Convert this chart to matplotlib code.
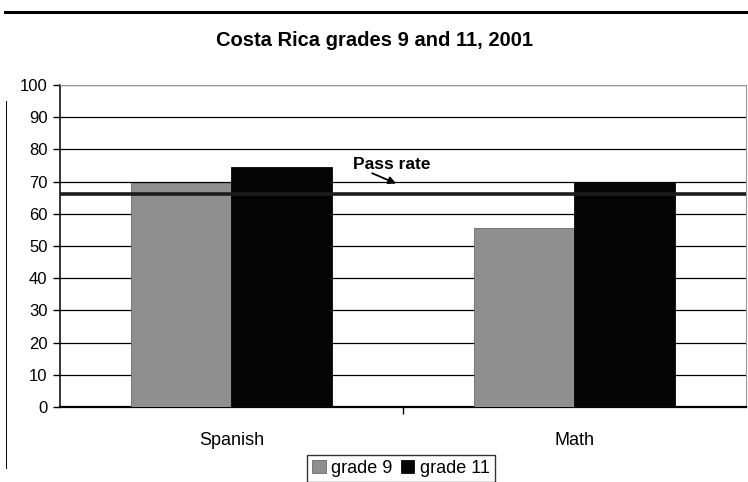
import matplotlib.pyplot as plt
import numpy as np
from matplotlib.lines import Line2D

plt.rcParams['font.family'] = ['Liberation Sans', 'DejaVu Sans']

# data
subjects = ['Spanish', 'Math']
grade9 = [69.5, 55.5]
grade11 = [74.5, 70]
pass_rate = 66
yticks = list(range(0, 101, 10))

fig = plt.figure(figsize=(7.48, 4.82), dpi=100)
ax = fig.add_axes([0.0802, 0.1556, 0.9171, 0.6681])

x = np.arange(len(subjects))
w = 0.292
ax.bar(x - w / 2, grade9, w, color='#8f8f8f', edgecolor='#6a6a6a', lw=0.6,
       label='grade 9', zorder=3)
ax.bar(x + w / 2, grade11, w, color='#050505', edgecolor='#050505', lw=0.6,
       label='grade 11', zorder=3)

# pass rate line
ax.axhline(pass_rate, color='#1c1c1c', lw=2.6, zorder=4)
ax.text(0.354, 75.2, 'Pass rate', fontsize=12.5, fontweight='bold',
        ha='left', va='center', zorder=5)
ax.annotate('', xy=(0.48, 69.4), xytext=(0.41, 72.6),
            arrowprops=dict(arrowstyle='-|>', color='black', lw=1.3,
                            mutation_scale=11, shrinkA=0, shrinkB=0),
            zorder=5)

ax.set_xlim(-0.5, 1.5)
ax.set_ylim(0, 100)
ax.set_yticks(yticks)
ax.set_xticks(x)
ax.set_xticklabels(subjects, fontsize=13)
ax.tick_params(axis='y', labelsize=12, length=5, width=1, direction='out', pad=4)
ax.tick_params(axis='x', length=0, pad=18)
ax.set_xticks([0.5], minor=True)
ax.tick_params(axis='x', which='minor', length=5, width=1)

ax.grid(axis='y', color='black', lw=0.9, zorder=1)
ax.set_axisbelow(True)
ax.spines['left'].set_linewidth(1.1)
ax.spines['bottom'].set_linewidth(1.6)
ax.spines['top'].set_color('#9a9a9a')
ax.spines['right'].set_color('#9a9a9a')

fig.text(0.5, 0.917, 'Costa Rica grades 9 and 11, 2001', ha='center', va='center',
         fontsize=14.5, fontweight='bold')

leg = ax.legend(loc='upper center', bbox_to_anchor=(0.497, -0.148), ncol=2,
                fontsize=13, frameon=True, fancybox=False, edgecolor='black',
                handlelength=0.75, handleheight=0.75, handletextpad=0.3,
                columnspacing=0.45, borderpad=0.3, borderaxespad=0)
leg.get_frame().set_linewidth(1.0)

# scan border lines
fig.add_artist(Line2D([0.007, 1.0], [0.975, 0.975], color='black', lw=2.2))
fig.add_artist(Line2D([0.008, 0.008], [0.03, 0.79], color='black', lw=0.7))

fig.savefig('out.png', dpi=100)
